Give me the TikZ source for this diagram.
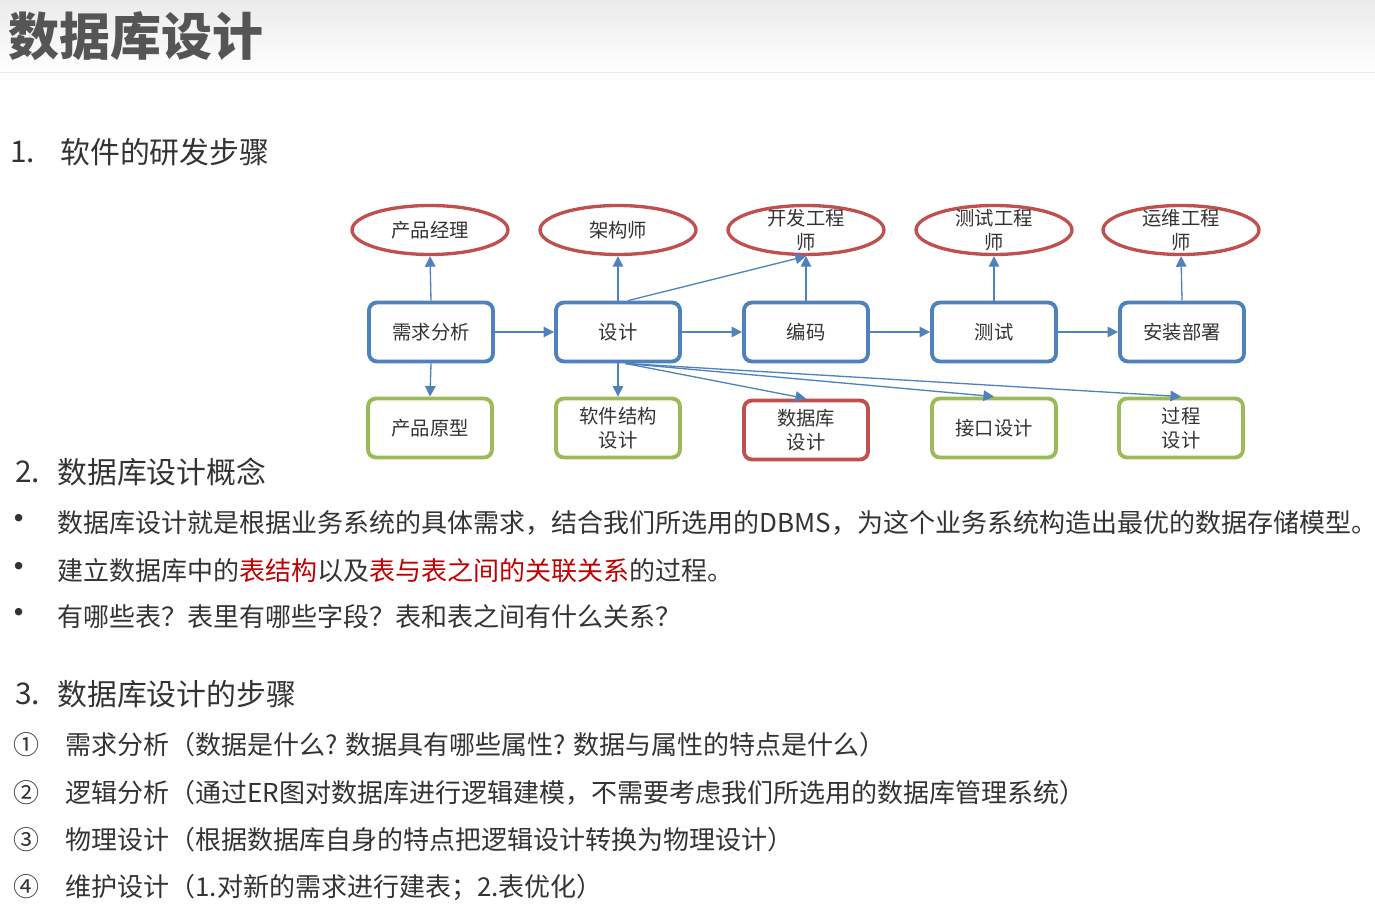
\documentclass[tikz,border=0pt]{standalone}
\usepackage{fontspec}
\setmainfont{Noto Sans CJK SC}
\usetikzlibrary{positioning,arrows.meta,shapes.geometric}
\definecolor{boxblue}{HTML}{4F81BD}
\definecolor{boxred}{HTML}{C0504D}
\definecolor{boxgreen}{HTML}{9BBB59}
\definecolor{inkgray}{HTML}{333333}
\definecolor{titlegray}{HTML}{555555}
\definecolor{hotred}{HTML}{C00000}

\begin{document}
\begin{tikzpicture}[x=0.02cm,y=-0.02cm,
  every node/.style={text=inkgray},
  role/.style={ellipse,draw=boxred,line width=1.9pt,minimum width=3.12cm,minimum height=0.98cm,inner sep=0pt},
  rolename/.style={font=\fontsize{11}{13.5}\selectfont,align=center,inner sep=0pt},
  stage/.style={draw=boxblue,line width=2.2pt,rounded corners=4.5pt,minimum width=2.48cm,minimum height=1.18cm,inner sep=1pt,font=\fontsize{11}{13.5}\selectfont,align=center},
  doc/.style={stage,draw=boxgreen},
  dbdoc/.style={stage,draw=boxred},
  link/.style={-{Triangle[length=6pt,width=6pt]},draw=boxblue,line width=0.75pt},
  head/.style={anchor=west,inner sep=0pt,font=\fontsize{17}{20}\selectfont},
  body/.style={anchor=west,inner sep=0pt,font=\fontsize{14.8}{18}\selectfont}]
\useasboundingbox (0,0) rectangle (1375,908);
\shade[top color=black!8,bottom color=white] (0,0) rectangle (1375,72);
\draw[black!8] (0,72) -- (1375,72);
\node[anchor=west,inner sep=0pt,text=titlegray,font=\bfseries\fontsize{29}{34}\selectfont] (title) at (8,36) {数据库设计};

% roles
\foreach \n/\x/\t in {pm/430/产品经理,arch/618/架构师,dev/806/{开发工程\\师},qa/994/{测试工程\\师},ops/1181/{运维工程\\师}} {
  \node[role] (\n) at (\x,230) {};
  \node[rolename] (\n-t) at (\x,230) {\t};
}
% stages
\node[stage] (req) at (431,332) {需求分析};
\node[stage] (des) at (618,332) {设计};
\node[stage] (code) at (806,332) {编码};
\node[stage] (test) at (994,332) {测试};
\node[stage] (dep) at (1182,332) {安装部署};
% documents
\node[doc] (proto) at (430,428) {产品原型};
\node[doc] (sw) at (618,428) {软件结构\\设计};
\node[dbdoc] (dbd) at (806,430) {数据库\\设计};
\node[doc] (itf) at (994,428) {接口设计};
\node[doc] (prc) at (1181,428) {过程\\设计};

\foreach \a/\b in {req/pm,des/arch,code/dev,test/qa,dep/ops}
  \draw[link] (\a.north) -- (\b.south);
\foreach \a/\b in {req/des,des/code,code/test,test/dep}
  \draw[link] (\a.east) -- (\b.west);
\draw[link] (req.south) -- (proto.north);
\draw[link] (des.south) -- (sw.north);
\draw[link] (des.72) -- (dev.south);
\foreach \b in {dbd,itf,prc}
  \draw[link] (des.-77) -- (\b.north);

% text
\node[head] (s1n) at (10,152) {1.};
\node[head] (s1) at (60,152) {软件的研发步骤};
\node[head] (s2n) at (15,472) {2.};
\node[head] (s2) at (57,472) {数据库设计概念};
\foreach \i/\y/\t in {1/523/{数据库设计就是根据业务系统的具体需求，结合我们所选用的DBMS，为这个业务系统构造出最优的数据存储模型。},
  2/571/{建立数据库中的\textcolor{hotred}{表结构}以及\textcolor{hotred}{表与表之间的关联关系}的过程。},
  3/617/{有哪些表？表里有哪些字段？表和表之间有什么关系？}} {
  \node[body,anchor=center,font=\fontsize{20}{22}\selectfont] (dot\i) at (19,\y) {•};
  \node[body] (c\i) at (57,\y) {\t};
}
\node[head] (s3n) at (15,694) {3.};
\node[head] (s3) at (57,694) {数据库设计的步骤};
\foreach \i/\y/\m/\t in {1/745/①/{需求分析（数据是什么? 数据具有哪些属性? 数据与属性的特点是什么）},
  2/793/②/{逻辑分析（通过ER图对数据库进行逻辑建模，不需要考虑我们所选用的数据库管理系统）},
  3/840/③/{物理设计（根据数据库自身的特点把逻辑设计转换为物理设计）},
  4/887/④/{维护设计（1.对新的需求进行建表；2.表优化）}} {
  \node[body,anchor=center] (n\i) at (27,\y) {\m};
  \node[body] (st\i) at (65,\y) {\t};
}
\end{tikzpicture}
\end{document}
